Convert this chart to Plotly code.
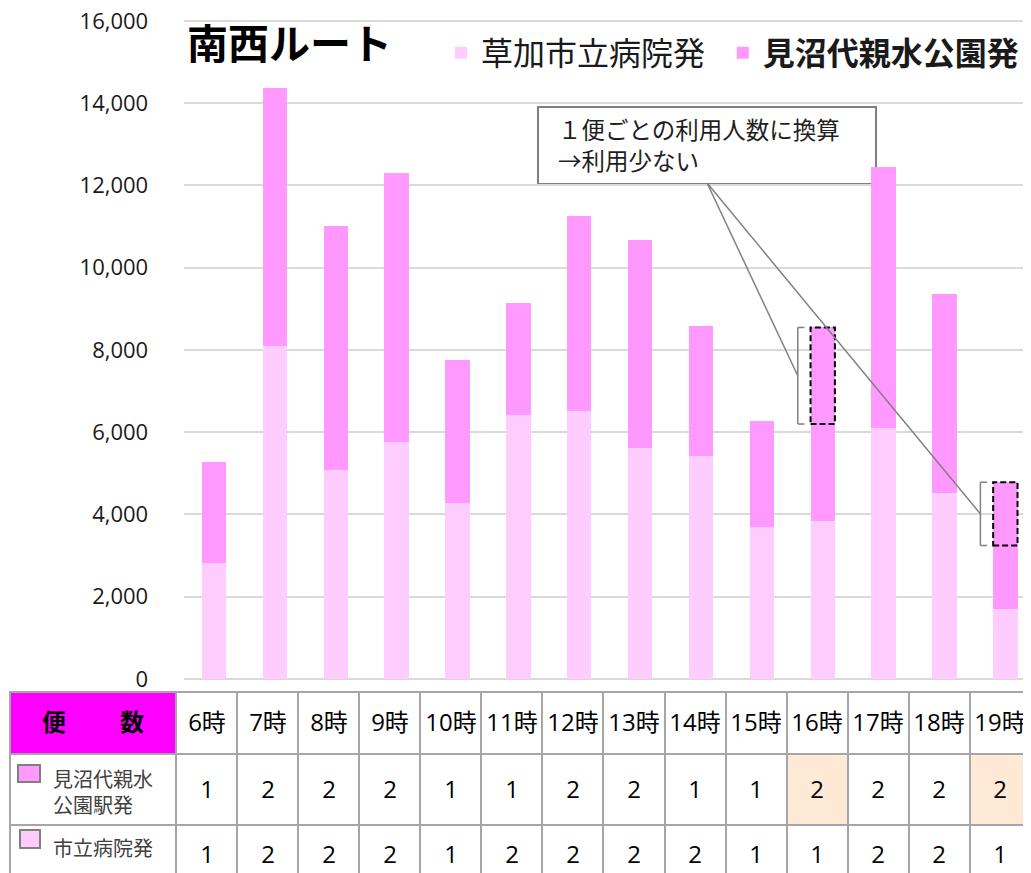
import plotly.graph_objects as go

# ---------------- data ----------------
hours = ["6時", "7時", "8時", "9時", "10時", "11時", "12時", "13時", "14時",
         "15時", "16時", "17時", "18時", "19時"]
hospital = [2830, 8102, 5085, 5766, 4282, 6423, 6521, 5628, 5433, 3691, 3852, 6115, 4533, 1703]
minuma = [2457, 6270, 5930, 6545, 3480, 2725, 4727, 5037, 3156, 2579, 4696, 6326, 4818, 3083]
buses_minuma = [1, 2, 2, 2, 1, 1, 2, 2, 1, 1, 2, 2, 2, 2]
buses_hospital = [1, 2, 2, 2, 1, 2, 2, 2, 2, 1, 1, 2, 2, 1]
highlight_hours = ["16時", "19時"]
name_hospital = "草加市立病院発"
name_minuma = "見沼代親水公園発"
title_text = "南西ルート"
callout_text = "１便ごとの利用人数に換算<br>→利用少ない"
table_header = "便　　 数"
row_labels = ["見沼代親水<br>公園駅発", "市立病院発"]
y_ticks = [0, 2000, 4000, 6000, 8000, 10000, 12000, 14000, 16000]

# ---------------- layout constants (viewport pixels) ----------------
W, H = 1031, 873
OFF = 8  # page body margin: the figure starts 8px into the viewport
PLOT_L, PLOT_T, PLOT_B = 183.6, 21, 679
Y_MAX = 16000
Y_PAD = 40  # keeps the 0 and 16,000 gridlines inside the plot area
CAT_W = 60.87
LIGHT = "#FFCCFF"
DARK = "#FF99FF"
CJK = "Noto Sans CJK JP"
LAT = "Open Sans, Noto Sans CJK JP"


def px_x(p):
    return (p - OFF) / W


def px_y(p):
    return 1 - (p - OFF) / H


pad_px = Y_PAD * (PLOT_B - PLOT_T) / Y_MAX

fig = go.Figure()
fig.add_trace(go.Bar(x=hours, y=hospital, name=name_hospital + "\u2009\u2009",
                     marker=dict(color=LIGHT, line=dict(width=0)), width=0.4,
                     hoverinfo="skip"))
fig.add_trace(go.Bar(x=hours, y=minuma, name="<b>" + name_minuma + "</b>",
                     marker=dict(color=DARK, line=dict(width=0)), width=0.4,
                     hoverinfo="skip"))

# ---------------- table (heatmap) ----------------
TL, FIRST_W, COL_W = 10, 166, 61.07
col_edges = [TL] + [TL + FIRST_W + k * COL_W for k in range(len(hours) + 1)]
row_edges = [692, 754, 825, 885]
text = [
    ["<b>" + table_header + "</b>"] + hours,
    [""] + [str(n) for n in buses_minuma],
    [""] + [str(n) for n in buses_hospital],
]
z = [
    [2] + [0] * len(hours),
    [0] + [1 if h in highlight_hours else 0 for h in hours],
    [0] * (len(hours) + 1),
]
fig.add_trace(go.Heatmap(
    x=col_edges, y=row_edges, z=z, text=text, texttemplate="%{text}",
    textfont=dict(family=LAT, size=24, color="black"),
    colorscale=[[0, "white"], [0.33, "white"], [0.34, "#FDE9D5"], [0.66, "#FDE9D5"],
                [0.67, "#FF00FF"], [1, "#FF00FF"]],
    zmin=0, zmax=2, showscale=False, xgap=2, ygap=2, hoverinfo="skip",
    xaxis="x2", yaxis="y2"))

shapes = []
# table grid background
shapes.append(dict(type="rect", xref="x2", yref="y2", x0=TL - 1, x1=W + 40,
                   y0=691, y1=900, fillcolor="#A6A6A6", line=dict(width=0),
                   layer="below"))
# legend icons in table
shapes.append(dict(type="rect", xref="x2", yref="y2", x0=18, x1=40, y0=765, y1=782,
                   fillcolor=DARK, line=dict(color="#808080", width=2)))
shapes.append(dict(type="rect", xref="x2", yref="y2", x0=20, x1=40, y0=830, y1=848,
                   fillcolor=LIGHT, line=dict(color="#808080", width=2)))

# callout box
shapes.append(dict(type="rect", xref="paper", yref="paper",
                   x0=px_x(538), x1=px_x(876), y0=px_y(184), y1=px_y(107),
                   fillcolor="white", line=dict(color="#7F7F7F", width=2),
                   layer="below"))

# per-bus boxes, brackets and callout lines
ANCHOR_X, ANCHOR_Y = 8.1, 12060
for h in highlight_hours:
    i = hours.index(h)
    top = hospital[i] + minuma[i]
    bottom = top - minuma[i] / buses_minuma[i]
    shapes.append(dict(type="rect", xref="x", yref="y", x0=i - 0.2, x1=i + 0.2,
                       y0=bottom, y1=top, line=dict(color="black", width=2, dash="6px,3px")))
    bx = i - 0.41
    for (xa, ya, xb, yb) in [(bx, bottom, bx, top), (bx, top, bx + 0.11, top),
                             (bx, bottom, bx + 0.11, bottom)]:
        shapes.append(dict(type="line", xref="x", yref="y", x0=xa, y0=ya, x1=xb, y1=yb,
                           line=dict(color="#808080", width=1.5)))
    shapes.append(dict(type="line", xref="x", yref="y", x0=ANCHOR_X, y0=ANCHOR_Y,
                       x1=bx, y1=(top + bottom) / 2,
                       line=dict(color="#808080", width=1.5)))

annotations = [
    dict(xref="paper", yref="paper", x=px_x(185), y=px_y(41), xanchor="left",
         yanchor="middle", showarrow=False, text="<b>" + title_text + "</b>",
         font=dict(family=CJK, size=41, color="black")),
    dict(xref="paper", yref="paper", x=px_x(556), y=px_y(144), xanchor="left",
         yanchor="middle", showarrow=False, text=callout_text, align="left",
         font=dict(family=CJK, size=23.5, color="#1f1f1f")),
    dict(xref="x2", yref="y2", x=51, y=791, xanchor="left", yanchor="middle",
         showarrow=False, text=row_labels[0], align="left",
         font=dict(family=CJK, size=20, color="#404040")),
    dict(xref="x2", yref="y2", x=51, y=847, xanchor="left", yanchor="middle",
         showarrow=False, text=row_labels[1], align="left",
         font=dict(family=CJK, size=20, color="#404040")),
]

fig.update_layout(
    width=W, height=H, autosize=False,
    margin=dict(l=0, r=0, t=0, b=0, pad=0, autoexpand=False),
    paper_bgcolor="white", plot_bgcolor="white",
    font=dict(family=CJK, color="black"),
    barmode="stack",
    showlegend=True,
    legend=dict(orientation="h", x=px_x(441), y=px_y(53), xanchor="left",
                yanchor="middle", traceorder="normal",
                font=dict(family=CJK, size=32, color="#1a1a1a"),
                bgcolor="rgba(0,0,0,0)"),
    xaxis=dict(domain=[px_x(PLOT_L), 1], type="category",
               range=[-0.5, -0.5 + (W + OFF - PLOT_L) / CAT_W],
               showticklabels=False, showgrid=False, showline=False, zeroline=False,
               fixedrange=True),
    yaxis=dict(domain=[px_y(PLOT_B + pad_px), px_y(PLOT_T - pad_px)],
               range=[-Y_PAD, Y_MAX + Y_PAD],
               tickvals=y_ticks, tickformat=",d", showgrid=True,
               gridcolor="#D9D9D9", gridwidth=1.5, zeroline=False, showline=False,
               ticks="outside", ticklen=30, tickcolor="rgba(0,0,0,0)",
               ticklabeloverflow="allow",
               tickfont=dict(family="Open Sans", size=22, color="#1a1a1a"),
               fixedrange=True),
    xaxis2=dict(domain=[0, 1], range=[OFF, OFF + W], visible=False, anchor="y2",
                fixedrange=True),
    yaxis2=dict(domain=[0, px_y(690)], range=[OFF + H, 690], visible=False, anchor="x2",
                fixedrange=True),
    shapes=shapes,
    annotations=annotations,
)

fig.write_html("out.html")
